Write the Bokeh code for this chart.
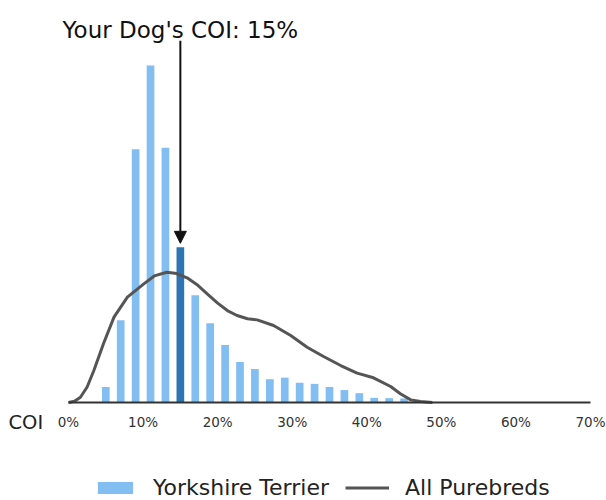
from bokeh.plotting import figure
from bokeh.models import (Range1d, FixedTicker, Legend, LegendItem, Label, Arrow,
                          NormalHead, ColumnDataSource)
from bokeh.embed import file_html
from bokeh.resources import INLINE

# ---- data ----
bin_centers = [5, 7, 9, 11, 13, 15, 17, 19, 21, 23, 25, 27, 29, 31, 33, 35, 37, 39, 41, 43, 45]
breed_pct = [1.0, 5.3, 16.3, 21.7, 16.4, 10.0, 6.9, 5.1, 3.7, 2.6, 2.15, 1.5, 1.6, 1.27,
             1.2, 1.0, 0.8, 0.6, 0.3, 0.28, 0.26]
curve_x = [0, 0.8, 1.6, 2.5, 3.4, 4.7, 6.1, 7.9, 10.1, 11.5, 13.2, 14.5, 15.9, 17.2, 18.6,
           20.0, 21.3, 22.6, 24.0, 25.3, 27.5, 29.8, 32.0, 34.2, 36.5, 38.7, 40.9, 43.2,
           44.5, 45.9, 47.2, 48.8]
curve_y = [0, 0.08, 0.34, 1.0, 2.06, 3.8, 5.5, 6.78, 7.64, 8.15, 8.39, 8.3, 8.03, 7.6, 7.0,
           6.4, 5.92, 5.6, 5.39, 5.32, 4.96, 4.31, 3.56, 2.96, 2.38, 1.89, 1.59, 1.03,
           0.56, 0.17, 0.06, 0]
dog_coi = 15
ticks = [0, 10, 20, 30, 40, 50, 60, 70]
tick_labels = ["0%", "10%", "20%", "30%", "40%", "50%", "60%", "70%"]
series_bar = "Yorkshire Terrier"
series_line = "All Purebreds"
title_text = "Your Dog's COI: 15%"
axis_title = "COI"

LIGHT = "#82BEF2"
DARK = "#2F74B3"
GREY = "#555555"

W, H = 606, 500
x0_px, x70_px = 68, 590
base_px = 402
px_per_x = (x70_px - x0_px) / 70.0
px_per_y = 15.53

p = figure(width=W, height=H, output_backend="svg", toolbar_location=None,
           x_range=Range1d(-x0_px / px_per_x, 70 + (W - x70_px) / px_per_x),
           y_range=Range1d(-(H - base_px) / px_per_y, base_px / px_per_y),
           y_axis_location=None, min_border_left=0, min_border_right=0,
           min_border_top=0, min_border_bottom=0)
p.outline_line_color = None
p.xgrid.visible = False
p.ygrid.visible = False

light_src = ColumnDataSource(dict(x=[x for x in bin_centers if x != dog_coi],
                                  top=[v for x, v in zip(bin_centers, breed_pct) if x != dog_coi]))
dark_src = ColumnDataSource(dict(x=[x for x in bin_centers if x == dog_coi],
                                 top=[v for x, v in zip(bin_centers, breed_pct) if x == dog_coi]))

r_bars = p.vbar(x="x", top="top", bottom=0, width=1.03, source=light_src,
                fill_color=LIGHT, line_color=None)
p.vbar(x="x", top="top", bottom=0, width=1.03, source=dark_src,
       fill_color=DARK, line_color=None)
r_line = p.line(curve_x, curve_y, line_color=GREY, line_width=3)

ax = p.xaxis[0]
ax.fixed_location = 0
ax.ticker = FixedTicker(ticks=ticks)
ax.major_label_overrides = {t: l for t, l in zip(ticks, tick_labels)}
ax.bounds = (ticks[0], ticks[-1])
ax.axis_line_color = "#333333"
ax.axis_line_width = 2
ax.major_tick_line_color = None
ax.minor_tick_line_color = None
ax.major_tick_in = 0
ax.major_tick_out = 0
ax.major_label_standoff = 11
ax.major_label_text_font = "DejaVu Sans"
ax.major_label_text_font_size = "13.5px"
ax.major_label_text_color = "#333333"

p.add_layout(Label(x=-(x0_px - 8) / px_per_x, y=-19.5 / px_per_y, text=axis_title,
                   text_font="DejaVu Sans", text_font_size="19.5px", text_color="#222222",
                   text_align="left", text_baseline="middle"))

p.add_layout(Label(x=dog_coi, y=24.0, text=title_text, text_font="DejaVu Sans",
                   text_font_size="23px", text_color="#111111",
                   text_align="center", text_baseline="alphabetic"))

top_val = [v for x, v in zip(bin_centers, breed_pct) if x == dog_coi][0]
p.add_layout(Arrow(x_start=dog_coi, y_start=23.3, x_end=dog_coi, y_end=top_val + 0.25,
                   line_color="#111111", line_width=2,
                   end=NormalHead(size=12, fill_color="#111111", line_color="#111111")))

legend = Legend(items=[LegendItem(label=series_bar, renderers=[r_bars]),
                       LegendItem(label=series_line, renderers=[r_line])],
                location=(93, 0), orientation="horizontal",
                glyph_width=44, glyph_height=15, label_standoff=16, spacing=16,
                padding=0, margin=0, border_line_color=None, background_fill_alpha=0,
                label_text_font="DejaVu Sans", label_text_font_size="22px",
                label_text_color="#222222")
p.add_layout(legend, "center")

open("out.html", "w").write(file_html(p, INLINE))
